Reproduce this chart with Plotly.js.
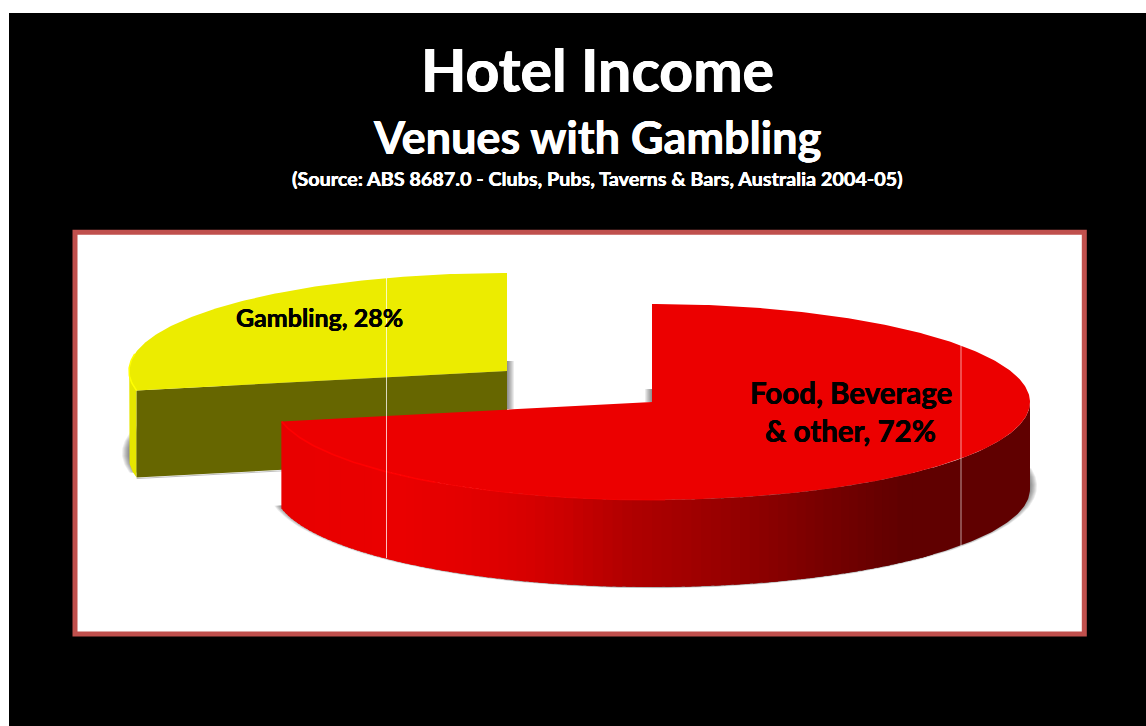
<!DOCTYPE html>
<html>
<head>
<meta charset="utf-8">
<script src="https://cdn.plot.ly/plotly-3.0.1.min.js"></script>
<style>html,body{margin:0;padding:0;background:#fff}#chart{width:1146px;height:726px}</style>
</head>
<body>
<div id="chart"></div>
<script>
// Data
const sliceLabels = ["Food, Beverage<br>& other", "Gambling"];
const sliceShares = [71.8, 28.2];
const titleText = "Hotel Income";
const subtitleText = "Venues with Gambling";
const sourceText = "(Source: ABS 8687.0 - Clubs, Pubs, Taverns & Bars, Australia 2004-05)";

// Pie geometry (an oblique 3-D pie, projected on a pixel-scaled pair of axes)
const RX = 378, RY = 98, DEPTH = 87;
const redC = [652, 402], yelC = [507, 371];
const total = sliceShares.reduce((a, b) => a + b, 0);
const splitDeg = 360 * sliceShares[0] / total;

function pt(c, deg, h, rx, ry) {
  const t = deg * Math.PI / 180;
  return [c[0] + (rx === undefined ? RX : rx) * Math.sin(t),
          c[1] + (h || 0) - (ry === undefined ? RY : ry) * Math.cos(t)];
}
function arc(c, a0, a1, h, rx, ry) {
  const n = Math.max(2, Math.ceil(Math.abs(a1 - a0) * 1.5));
  const out = [];
  for (let i = 0; i <= n; i++) out.push(pt(c, a0 + (a1 - a0) * i / n, h, rx, ry));
  return out;
}
function poly(points, fill, lineCol, lineW) {
  const xs = points.map(p => p[0]), ys = points.map(p => p[1]);
  xs.push(xs[0]); ys.push(ys[0]);
  return {type: "scatter", mode: "lines", x: xs, y: ys, fill: "toself", fillcolor: fill,
    line: {color: lineCol || fill, width: lineW === undefined ? 0 : lineW, shape: "linear"},
    hoverinfo: "skip", showlegend: false};
}
function line(points, col, w) {
  return {type: "scatter", mode: "lines", x: points.map(p => p[0]), y: points.map(p => p[1]),
    line: {color: col, width: w}, hoverinfo: "skip", showlegend: false};
}

const traces = [];

// soft drop shadows, drawn as nested translucent layers
const SH = "rgba(0,0,0,0.075)";
for (let k = 7; k >= 1; k--) {
  traces.push(poly([[redC[0], redC[1] + 84]].concat(arc([redC[0], redC[1] + 84], 80, splitDeg + 0.4, 0, RX + k, RY + 3 + k * 0.2)), SH));
  traces.push(poly([[yelC[0], yelC[1] + 82]].concat(arc([yelC[0], yelC[1] + 82], splitDeg, 360, 0, RX + k, RY + k * 0.2)), SH));
  traces.push(poly([[yelC[0], yelC[1] - 10], [yelC[0] + k, yelC[1] - 10], [yelC[0] + k, yelC[1] + 38], [yelC[0], yelC[1] + 38]], SH));
  traces.push(poly([[redC[0] - k, redC[1] - 13], [redC[0], redC[1] - 13], [redC[0], redC[1]], [redC[0] - k, redC[1]]], SH));
}

// Gambling slice
const ySplitTop = pt(yelC, splitDeg);
const ySplitBot = pt(yelC, splitDeg, DEPTH);
traces.push(line([[ySplitBot[0], ySplitBot[1] + 1], [yelC[0], yelC[1] + DEPTH + 1]], "rgba(0,0,0,0.25)", 1));
traces.push(poly(arc(yelC, splitDeg, 272).concat(arc(yelC, 272, splitDeg, DEPTH)), "#E6E600", "#E6E600", 0));
traces.push(poly([ySplitTop, yelC, [yelC[0], yelC[1] + DEPTH], ySplitBot], "#666600", "#666600", 0));
traces.push(poly([yelC].concat(arc(yelC, splitDeg, 360)), "#ECEC00", "#ECEC00", 0));
traces.push(line(arc(yelC, splitDeg, 280), "#FFFF00", 1.5));

// Food, beverage & other slice: front wall with left-to-right shading
const stopX = [283, 400, 470, 520, 560, 620, 720, 820, 900, 1031];
const stopR = [232, 234, 226, 216, 204, 178, 152, 120, 96, 96];
function shade(x) {
  for (let i = 1; i < stopX.length; i++) {
    if (x <= stopX[i]) {
      const f = (x - stopX[i - 1]) / (stopX[i] - stopX[i - 1]);
      return "rgb(" + Math.round(stopR[i - 1] + (stopR[i] - stopR[i - 1]) * f) + ",0,0)";
    }
  }
  return "rgb(" + stopR[stopR.length - 1] + ",0,0)";
}
const wallStep = 1.5;
traces.push(poly(arc(redC, 90, 135).concat(arc(redC, 135, 90, DEPTH)), "#600000"));
for (let a = 132; a < splitDeg; a += wallStep) {
  const b = Math.min(a + wallStep + 1, splitDeg);
  const mid = pt(redC, (a + b) / 2)[0];
  traces.push(poly(arc(redC, a, b).concat(arc(redC, b, a, DEPTH)), shade(mid)));
}
traces.push(poly([redC].concat(arc(redC, 0, splitDeg)), "#EC0000", "#EC0000", 0));
traces.push(line(arc(redC, splitDeg, 215), "#FF0000", 1.6));
traces.push(line(arc(redC, 215, 178), "#F60000", 1));

// thin plot-area lines that run through the pie
traces.push(line([[386.5, 238], [386.5, 558]], "rgba(255,255,255,0.75)", 1));
traces.push(line([[961, 238], [961, 548]], "rgba(255,255,255,0.6)", 1));

const FONT = "Lato, Carlito, Calibri, sans-serif";
function note(x, y, text, size, color, thick) {
  const s = thick + "px 0 0 " + color + ", -" + thick + "px 0 0 " + color;
  return {x, y, xref: "x", yref: "y", text, showarrow: false, xanchor: "center", yanchor: "middle",
    font: {family: FONT, size, color, weight: 700, shadow: s}};
}
const foodLines = sliceLabels[0].split("<br>");
const annotations = [
  note(597, 69, "<b>" + titleText + "</b>", 59, "#FFFFFF", 0.5),
  note(597, 137, "<b>" + subtitleText + "</b>", 45, "#FFFFFF", 0.35),
  note(597.5, 177.5, "<b>" + sourceText + "</b>", 19.8, "#FFFFFF", 0.15),
  note(319, 316.5, "<b>" + sliceLabels[1] + ", " + Math.round(sliceShares[1]) + "%</b>", 25, "#000000", 0.2),
  note(850.5, 392.5, "<b>" + foodLines[0] + "</b>", 29.5, "#000000", 0.25),
  note(850.5, 430.5, "<b>" + foodLines[1] + ", " + Math.round(sliceShares[0]) + "%</b>", 29.5, "#000000", 0.25)
];

const layout = {
  width: 1146, height: 726,
  margin: {l: 0, r: 0, t: 0, b: 0, pad: 0},
  paper_bgcolor: "#FFFFFF", plot_bgcolor: "rgba(0,0,0,0)",
  showlegend: false, hovermode: false,
  xaxis: {range: [0, 1146], visible: false, fixedrange: true},
  yaxis: {range: [726, 0], visible: false, fixedrange: true},
  shapes: [
    {type: "rect", xref: "x", yref: "y", layer: "below", x0: 9, x1: 1146, y0: 13, y1: 726, fillcolor: "#000000", line: {width: 0}},
    {type: "rect", xref: "x", yref: "y", layer: "below", x0: 75, x1: 1084.3, y0: 232.2, y1: 634, fillcolor: "#FFFFFF", line: {color: "#C0504D", width: 5}}
  ],
  annotations
};
Plotly.newPlot("chart", traces, layout, {displayModeBar: false, responsive: false});
</script>
</body>
</html>
